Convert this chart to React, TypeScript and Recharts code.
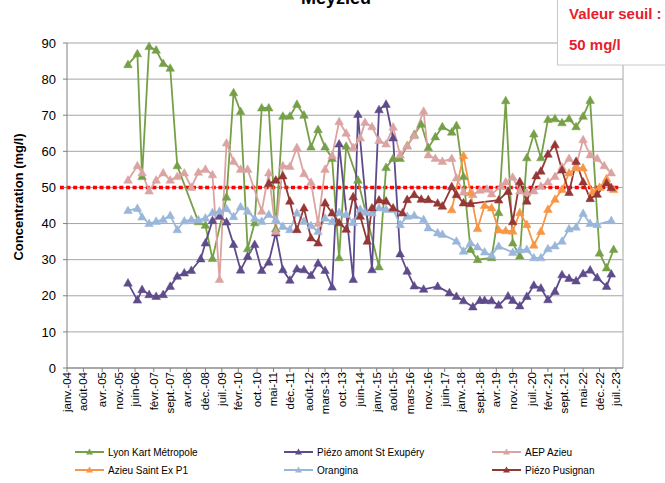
import { LineChart, Line, XAxis, YAxis, CartesianGrid, ReferenceLine } from 'recharts';

type Pt = [string, number];

const FONT = '"Liberation Sans", Arial, sans-serif';

// x axis: tick dates and their labels
const tickDates = [
  '2004-01', '2004-08', '2005-04', '2005-11', '2006-06', '2007-02', '2007-09', '2008-04', '2008-12',
  '2009-07', '2010-02', '2010-10', '2011-05', '2011-12', '2012-08', '2013-03', '2013-10', '2014-06',
  '2015-01', '2015-08', '2016-03', '2016-11', '2017-06', '2018-01', '2018-09', '2019-04', '2019-11',
  '2020-07', '2021-02', '2021-09', '2022-05', '2022-12', '2023-07',
];
const tickLabels = [
  'janv.-04', 'août-04', 'avr.-05', 'nov.-05', 'juin-06', 'févr.-07', 'sept.-07', 'avr.-08', 'déc.-08',
  'juil.-09', 'févr.-10', 'oct.-10', 'mai-11', 'déc.-11', 'août-12', 'mars-13', 'oct.-13', 'juin-14',
  'janv.-15', 'août-15', 'mars-16', 'nov.-16', 'juin-17', 'janv.-18', 'sept.-18', 'avr.-19', 'nov.-19',
  'juil.-20', 'févr.-21', 'sept.-21', 'mai-22', 'déc.-22', 'juil.-23',
];
const axisStart = '2004-01';
const axisEnd = '2023-10';
const yTicks = [0, 10, 20, 30, 40, 50, 60, 70, 80, 90];
const threshold = 50;
// the dotted threshold line is drawn a little past the plot's left edge
const thresholdFrom = '2003-10';
const thresholdTo = '2023-08';

const lyonKart: Pt[] = [
  ['2006-03', 84], ['2006-07', 87], ['2006-09', 53], ['2006-12', 89], ['2007-03', 88], ['2007-06', 84.3],
  ['2007-09', 83], ['2007-12', 56], ['2008-09', 40.5], ['2008-12', 39.5], ['2009-03', 30.3], ['2009-09', 47.3],
  ['2009-12', 76.2], ['2010-03', 71], ['2010-06', 33], ['2010-09', 40.2], ['2010-12', 72], ['2011-03', 72],
  ['2011-06', 38.5], ['2011-09', 69.7], ['2011-12', 69.7], ['2012-03', 73], ['2012-06', 70], ['2012-09', 61.2],
  ['2012-12', 66], ['2013-03', 61.2], ['2013-06', 58], ['2013-09', 30.5], ['2013-12', 61.4], ['2014-05', 52],
  ['2015-02', 28], ['2015-05', 55.5], ['2015-08', 58], ['2015-11', 58], ['2016-02', 61.5], ['2016-05', 64.6],
  ['2016-08', 67.5], ['2016-11', 61], ['2017-02', 64], ['2017-05', 66.8], ['2017-09', 65.3], ['2017-11', 67.1],
  ['2018-02', 53], ['2018-05', 32.8], ['2018-08', 30], ['2019-02', 30.5], ['2019-05', 43], ['2019-08', 74],
  ['2019-11', 34.6], ['2020-02', 31], ['2020-05', 58.2], ['2020-08', 64.8], ['2020-11', 58.2], ['2021-02', 68.8],
  ['2021-05', 69], ['2021-08', 67.9], ['2021-11', 69], ['2022-02', 66.8], ['2022-05', 69.7], ['2022-08', 74.1],
  ['2022-12', 31.8], ['2023-03', 27.7], ['2023-06', 32.8],
];

const piezoAmont: Pt[] = [
  ['2006-03', 23.5], ['2006-07', 18.8], ['2006-09', 21.7], ['2006-12', 20.3], ['2007-03', 19.8], ['2007-06', 20.3],
  ['2007-09', 22.6], ['2007-12', 25.4], ['2008-03', 26.3], ['2008-06', 27], ['2008-10', 30.2], ['2008-12', 34.6],
  ['2009-03', 40.8], ['2009-06', 42], ['2009-09', 40.4], ['2009-12', 34.2], ['2010-03', 27.1], ['2010-06', 30.9],
  ['2010-09', 34.2], ['2010-12', 27], ['2011-03', 29.3], ['2011-06', 37.4], ['2011-09', 27.2], ['2011-12', 24.3],
  ['2012-03', 27.4], ['2012-06', 27.2], ['2012-09', 25.6], ['2012-12', 29], ['2013-03', 27], ['2013-06', 22.4],
  ['2013-09', 62], ['2014-03', 24.5], ['2014-05', 70.2], ['2014-11', 27.2], ['2015-02', 71.5], ['2015-05', 73],
  ['2015-08', 63.7], ['2015-11', 31.6], ['2016-02', 26.8], ['2016-05', 22.7], ['2016-09', 21.8], ['2017-03', 22.6],
  ['2017-08', 20.8], ['2017-11', 19.8], ['2018-02', 18.6], ['2018-06', 16.9], ['2018-09', 18.7], ['2018-11', 18.7],
  ['2019-02', 18.6], ['2019-05', 17.4], ['2019-09', 19.9], ['2019-11', 18.7], ['2020-02', 17.2], ['2020-05', 19.8],
  ['2020-08', 22.9], ['2020-11', 22.1], ['2021-02', 18.9], ['2021-05', 21.2], ['2021-08', 25.8], ['2021-11', 24.8],
  ['2022-02', 24.1], ['2022-05', 26.1], ['2022-08', 27.1], ['2022-11', 25], ['2023-03', 22.6], ['2023-05', 26],
];

const aepAzieu: Pt[] = [
  ['2006-03', 52], ['2006-07', 56], ['2006-09', 54], ['2006-12', 49], ['2007-03', 52], ['2007-06', 54],
  ['2007-09', 52], ['2007-12', 53], ['2008-03', 54], ['2008-06', 50], ['2008-09', 54.2], ['2008-12', 55],
  ['2009-03', 53.5], ['2009-06', 24.5], ['2009-09', 62.3], ['2009-12', 57.2], ['2010-03', 55], ['2010-06', 55],
  ['2010-12', 43.4], ['2011-03', 54], ['2011-06', 37.8], ['2011-09', 56], ['2011-12', 55.8], ['2012-03', 61],
  ['2012-06', 53.8], ['2012-09', 51.4], ['2012-12', 40], ['2013-03', 55], ['2013-06', 58.8], ['2013-09', 68.2],
  ['2013-12', 65], ['2014-03', 61], ['2014-06', 63.7], ['2014-08', 68], ['2014-11', 66.8], ['2015-02', 63],
  ['2015-05', 62], ['2015-08', 66.7], ['2015-11', 59], ['2016-02', 61.5], ['2016-05', 64.3], ['2016-09', 71.1],
  ['2016-11', 59], ['2017-02', 58], ['2017-05', 57.2], ['2017-09', 58], ['2017-11', 52.6], ['2018-02', 48.7],
  ['2018-06', 48], ['2018-09', 49.2], ['2018-12', 49.5], ['2019-02', 48.2], ['2019-06', 50.3], ['2019-08', 51.5],
  ['2019-11', 52.8], ['2020-02', 49], ['2020-05', 48.5], ['2020-08', 49], ['2020-11', 50.3], ['2021-02', 51.5],
  ['2021-05', 53], ['2021-08', 55.6], ['2021-11', 58], ['2022-02', 56], ['2022-05', 63.2], ['2022-08', 59],
  ['2022-11', 58], ['2023-02', 56], ['2023-05', 54],
];

const azieuSaintEx: Pt[] = [
  ['2017-09', 43.8], ['2018-02', 58.8], ['2018-05', 48.5], ['2018-08', 38.6], ['2018-11', 45], ['2019-02', 44.3],
  ['2019-05', 38.2], ['2019-08', 38], ['2019-11', 37.9], ['2020-02', 43], ['2020-05', 39.7], ['2020-08', 34],
  ['2020-11', 37.8], ['2021-02', 43.9], ['2021-05', 46.7], ['2021-08', 49.4], ['2021-11', 54], ['2022-02', 55.4],
  ['2022-05', 55.4], ['2022-09', 48.7], ['2022-12', 50], ['2023-03', 52.4], ['2023-06', 49.4],
];

const orangina: Pt[] = [
  ['2006-03', 43.6], ['2006-07', 44.2], ['2006-09', 41.8], ['2006-12', 40], ['2007-03', 40.6], ['2007-06', 41.1],
  ['2007-09', 42.2], ['2007-12', 38.3], ['2008-03', 40.7], ['2008-06', 41.1], ['2008-09', 41], ['2008-12', 41.5],
  ['2009-03', 43], ['2009-06', 43.4], ['2009-09', 44.1], ['2009-12', 41.9], ['2010-03', 44.6], ['2010-06', 43.4],
  ['2010-09', 41.4], ['2010-12', 40.6], ['2011-03', 42.5], ['2011-06', 41.1], ['2011-09', 39.2], ['2011-12', 38.3],
  ['2012-03', 42.9], ['2012-06', 40.6], ['2012-09', 39.4], ['2012-12', 37.8], ['2013-03', 41.5], ['2013-06', 40.5],
  ['2013-09', 43], ['2013-12', 42.5], ['2014-03', 40.3], ['2014-06', 43.9], ['2014-08', 43.1], ['2014-11', 42.9],
  ['2015-02', 44.3], ['2015-05', 43.9], ['2015-08', 43.9], ['2015-11', 39.7], ['2016-02', 42], ['2016-05', 42.2],
  ['2016-09', 41.1], ['2016-11', 38.8], ['2017-03', 37.4], ['2017-05', 37], ['2017-11', 35.1], ['2018-02', 32.3],
  ['2018-05', 34.6], ['2018-08', 33.5], ['2018-11', 32.1], ['2019-02', 31.2], ['2019-05', 33.7], ['2019-11', 32],
  ['2020-02', 32.7], ['2020-05', 32.8], ['2020-08', 30.5], ['2020-11', 30.5], ['2021-02', 33], ['2021-05', 33.8],
  ['2021-08', 35.1], ['2021-11', 38.5], ['2022-02', 39], ['2022-05', 42.8], ['2022-08', 40], ['2022-11', 39.7],
  ['2023-05', 40.8],
];

const piezoPusignan: Pt[] = [
  ['2011-03', 51.1], ['2011-06', 52], ['2011-09', 53.2], ['2011-12', 46.2], ['2012-03', 38.3], ['2012-06', 44.3],
  ['2012-09', 36], ['2012-12', 34.6], ['2013-03', 45.7], ['2013-06', 42.9], ['2013-09', 40.2], ['2013-12', 38.4],
  ['2014-03', 47.4], ['2014-06', 42], ['2014-09', 35.1], ['2014-11', 44.3], ['2015-02', 46.5], ['2015-05', 46.2],
  ['2015-08', 44.3], ['2015-12', 42.9], ['2016-02', 46.6], ['2016-05', 48], ['2016-08', 46.7], ['2016-11', 46.6],
  ['2017-03', 45.6], ['2017-05', 44.8], ['2017-09', 50.2], ['2017-11', 48], ['2018-02', 45.7], ['2018-05', 45.5],
  ['2019-05', 46.5], ['2019-09', 48.9], ['2019-11', 40.5], ['2020-02', 51.6], ['2020-05', 46.2], ['2020-09', 53.2],
  ['2020-11', 54.5], ['2021-02', 59.2], ['2021-05', 61.8], ['2021-08', 54.8], ['2021-11', 48.6], ['2022-02', 57.2],
  ['2022-05', 51.5], ['2022-08', 46.9], ['2022-11', 48.1], ['2023-03', 51.2], ['2023-05', 49.9],
];

const series = [
  { name: 'Lyon Kart Métropole', color: '#76A047', points: lyonKart },
  { name: 'Piézo amont St Exupéry', color: '#5E4B8B', points: piezoAmont },
  { name: 'AEP Azieu', color: '#DBA3A1', points: aepAzieu },
  { name: 'Azieu Saint Ex P1', color: '#F79646', points: azieuSaintEx },
  { name: 'Orangina', color: '#9AB6DA', points: orangina },
  { name: 'Piézo Pusignan', color: '#953735', points: piezoPusignan },
];

// months since janv.-04
const toMonths = (d: string) => {
  const [y, m] = d.split('-').map(Number);
  return (y - 2004) * 12 + (m - 1);
};

const tickMonths = tickDates.map(toMonths);

const triangle = (color: string) => (props: any) => {
  const { cx, cy, index } = props;
  if (cx == null || cy == null) return <g key={index} />;
  return (
    <polygon
      key={index}
      points={`${cx},${cy - 4.6} ${cx + 4.3},${cy + 3} ${cx - 4.3},${cy + 3}`}
      fill={color}
      stroke={color}
      strokeWidth={0.5}
    />
  );
};

const XTick = (props: any) => {
  const { x, y, payload } = props;
  const label = tickLabels[tickMonths.indexOf(payload.value)];
  return (
    <text
      transform={`translate(${x},${y}) rotate(-90)`}
      textAnchor="end"
      dy="0.35em"
      fontSize={11.5}
      fontFamily={FONT}
      fill="#000"
    >
      {label}
    </text>
  );
};

const legendCols = [75, 284, 492];
const legendRows = [452, 470];

function App() {
  return (
    <div style={{ position: 'absolute', left: 0, top: 0, width: 665, height: 483, background: '#fff', overflow: 'hidden' }}>
      <LineChart width={665} height={483} margin={{ top: 43, right: 42, bottom: 0, left: 0 }}>
        <CartesianGrid vertical={false} stroke="#A6A6A6" />
        <XAxis
          type="number"
          dataKey="t"
          domain={[toMonths(axisStart), toMonths(axisEnd)]}
          ticks={tickMonths}
          interval={0}
          height={115}
          tickSize={4}
          tickMargin={0}
          tick={<XTick />}
          axisLine={{ stroke: '#808080' }}
          tickLine={{ stroke: '#808080' }}
          allowDataOverflow
        />
        <YAxis
          type="number"
          domain={[0, 90]}
          ticks={yTicks}
          width={67}
          tickSize={4}
          tickMargin={7}
          tick={{ fontSize: 13, fill: '#000', fontFamily: FONT }}
          axisLine={{ stroke: '#808080' }}
          tickLine={{ stroke: '#808080' }}
        />
        <ReferenceLine x={toMonths(axisEnd)} stroke="#A6A6A6" />
        <ReferenceLine
          segment={[
            { x: toMonths(thresholdFrom), y: threshold },
            { x: toMonths(thresholdTo), y: threshold },
          ]}
          ifOverflow="visible"
          stroke="#FF0000"
          strokeWidth={3.5}
          strokeDasharray="4 2.6"
        />
        {series.map((s) => (
          <Line
            key={s.name}
            data={s.points.map(([d, v]) => ({ t: toMonths(d), v }))}
            dataKey="v"
            name={s.name}
            type="linear"
            stroke={s.color}
            strokeWidth={1.8}
            dot={triangle(s.color)}
            activeDot={false}
            isAnimationActive={false}
          />
        ))}
      </LineChart>

      <svg width={665} height={483} style={{ position: 'absolute', left: 0, top: 0, pointerEvents: 'none' }}>
        <text x={336} y={4} textAnchor="middle" fontWeight="bold" fontSize={18} fontFamily={FONT}>Meyzieu</text>
        <text transform="translate(23,197) rotate(-90)" textAnchor="middle" fontWeight="bold" fontSize={13} fontFamily={FONT}>
          Concentration (mg/l)
        </text>
        <rect x={557.5} y={-10} width={130} height={75} fill="#fff" stroke="#C8C8C8" />
        <text x={569} y={19} fill="#E8202A" fontWeight="bold" fontSize={15} fontFamily={FONT}>Valeur seuil :</text>
        <text x={569} y={50} fill="#E8202A" fontWeight="bold" fontSize={15} fontFamily={FONT}>50 mg/l</text>
        {series.map((s, i) => {
          const x = legendCols[i % 3];
          const y = legendRows[Math.floor(i / 3)];
          return (
            <g key={s.name}>
              <line x1={x} y1={y} x2={x + 29} y2={y} stroke={s.color} strokeWidth={2} />
              <polygon points={`${x + 14.5},${y - 3.5} ${x + 18},${y + 2.5} ${x + 11},${y + 2.5}`} fill={s.color} />
              <text x={x + 33} y={y} dy="0.35em" fontSize={10} fontFamily={FONT} fill="#000">{s.name}</text>
            </g>
          );
        })}
      </svg>
    </div>
  );
}

export default App;
